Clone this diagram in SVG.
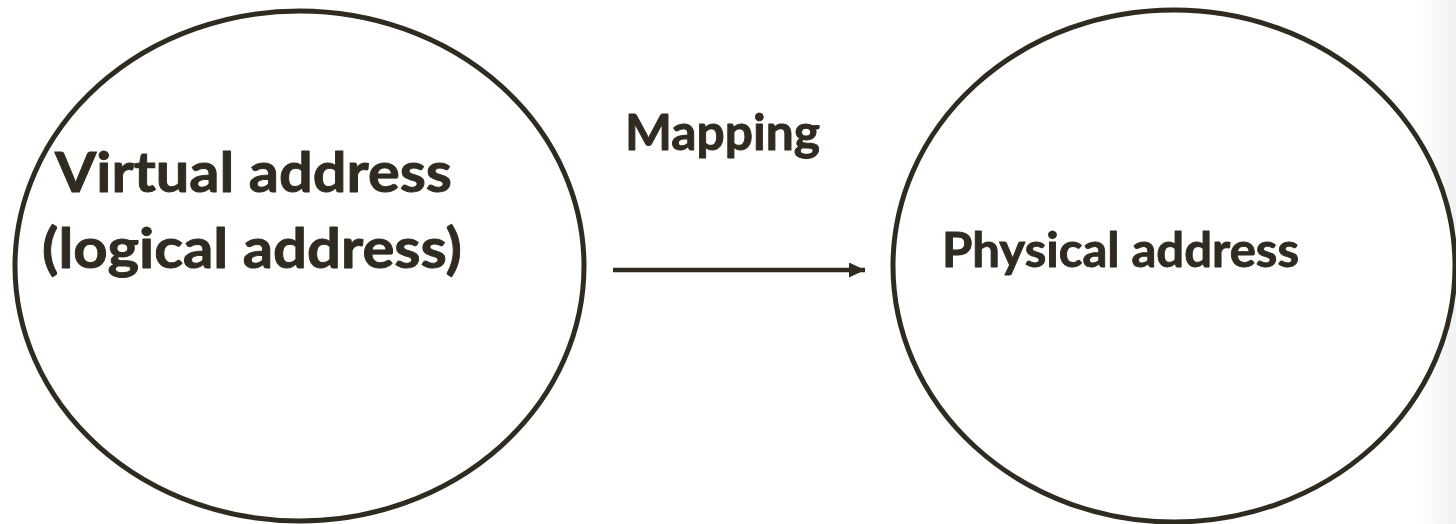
<svg xmlns="http://www.w3.org/2000/svg" width="1456" height="524" viewBox="0 0 1456 524">
  <defs>
    <linearGradient id="edge" x1="0" y1="0" x2="1" y2="0">
      <stop offset="0" stop-color="#ffffff"/>
      <stop offset="1" stop-color="#f1f1f1"/>
    </linearGradient>
    <marker id="arrow" viewBox="0 0 16 15" refX="16" refY="7.5" markerWidth="16" markerHeight="15" markerUnits="userSpaceOnUse" orient="auto">
      <path d="M0,0 L16,7.5 L0,15 Z" fill="#2f2b21"/>
    </marker>
  </defs>
  <style>
    .node { fill: #ffffff; stroke: #2f2b21; stroke-width: 5; }
    .label { font-family: Lato, "Liberation Sans", sans-serif; font-weight: bold; fill: #2f2b21; stroke: #2f2b21; stroke-width: 0.9; stroke-linejoin: round; }
    .conn { stroke: #2f2b21; stroke-width: 4.5; fill: none; }
  </style>
  <rect x="0" y="0" width="1456" height="524" fill="#ffffff"/>
  <rect x="1420" y="0" width="36" height="524" fill="url(#edge)"/>
  <g id="virtual">
    <ellipse class="node" cx="299.5" cy="266" rx="284.5" ry="255"/>
    <text class="label" x="55" y="192" font-size="56" textLength="397" lengthAdjust="spacingAndGlyphs">Virtual address</text>
    <text class="label" x="42" y="268" font-size="56" textLength="420" lengthAdjust="spacingAndGlyphs">(logical address)</text>
  </g>
  <g id="physical">
    <ellipse class="node" cx="1174" cy="266" rx="281" ry="256"/>
    <text class="label" x="942" y="267" font-size="48" textLength="357" lengthAdjust="spacingAndGlyphs">Physical address</text>
  </g>
  <g id="connectors">
    <line class="conn" x1="613" y1="270" x2="865" y2="270" marker-end="url(#arrow)"/>
    <text class="label" x="625" y="150" font-size="49" textLength="195" lengthAdjust="spacingAndGlyphs">Mapping</text>
  </g>
</svg>
